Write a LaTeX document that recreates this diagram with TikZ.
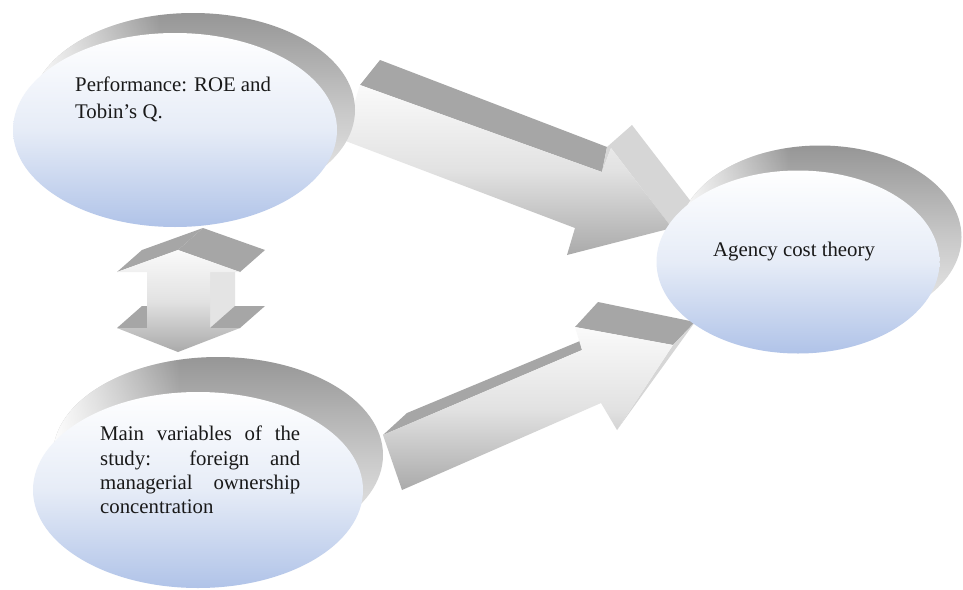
\documentclass[tikz,border=0pt]{standalone}
\usepackage{fontspec}
\setmainfont{Liberation Serif}
\usetikzlibrary{shapes.geometric,fadings}
\definecolor{facebot}{RGB}{176,195,232}
\definecolor{facemid}{RGB}{230,236,247}
\definecolor{bandtop}{RGB}{150,150,150}
\definecolor{bandmid}{RGB}{200,200,200}
\definecolor{bandbot}{RGB}{240,240,240}
\definecolor{arrowtop}{RGB}{250,250,250}
\definecolor{arrowmid}{RGB}{226,226,226}
\definecolor{arrowbot}{RGB}{170,170,170}
\definecolor{arrowdark}{RGB}{166,166,166}
\definecolor{arrowside}{RGB}{214,214,214}
\definecolor{shaftside}{RGB}{228,228,228}
\definecolor{txtcol}{RGB}{25,25,25}
\begin{document}
\begin{tikzpicture}[x=1pt,y=-1pt,
  facestyle/.style={ellipse, inner sep=0pt, draw=none, top color=white, bottom color=facebot, middle color=facemid},
  bandstyle/.style={ellipse, inner sep=0pt, draw=none, top color=bandtop, bottom color=bandbot, middle color=bandmid},
  frontface/.style={top color=arrowtop, bottom color=arrowbot, middle color=arrowmid},
  topface/.style={fill=arrowdark},
  sideface/.style={fill=arrowside},
  shaftface/.style={fill=shaftside},
  fadeleft/.style={fill=white, path fading=east},
  txt/.style={anchor=base west, inner sep=0pt, font=\fontsize{20.8}{25}\selectfont, text=txtcol}
]
\useasboundingbox (0,0) rectangle (963,589);
\fill[white] (0,0) rectangle (963,589);

% ---- arrow 1: Performance -> Agency
\fill[topface] (360,85) -- (602,172) -- (607,147) -- (380,60) -- cycle;
\fill[sideface] (602,172) -- (607,147) -- (632,125) -- (692,203) -- (672,228) -- (611,148) -- cycle;
\path[frontface] (343,140) -- (360,85) -- (602,172) -- (611,148) -- (672,228) -- (567,255) -- (575,228) -- cycle;

% ---- arrow 2: Main variables -> Agency
\fill[topface] (383,435) -- (582,350) -- (580,341) -- (407,413) -- cycle;
\fill[topface] (575,327) -- (673,345) -- (695,322) -- (598,302) -- cycle;
\fill[sideface] (673,345) -- (695,322) -- (617,430) -- cycle;
\path[frontface] (402,490) -- (383,435) -- (582,350) -- (575,327) -- (673,345) -- (617,430) -- (601,403) -- cycle;

% ---- double arrow between Performance and Main variables
\fill[shaftface] (210,272) -- (235,250) -- (235,306) -- (210,328) -- cycle;
\fill[topface] (117,272) -- (178,250) -- (203,228) -- (142,250) -- cycle;
\fill[topface] (178,250) -- (240,272) -- (265,250) -- (203,228) -- cycle;
\fill[topface] (210,328) -- (240,328) -- (265,306) -- (235,306) -- cycle;
\fill[topface] (117,328) -- (147,328) -- (172,306) -- (142,306) -- cycle;
\path[frontface] (178,250) -- (240,272) -- (210,272) -- (210,328) -- (240,328) -- (178,352) -- (117,328) -- (147,328) -- (147,272) -- (117,272) -- cycle;

% ---- ellipses (band behind, face in front)
\node[bandstyle, minimum width=324pt, minimum height=194pt] (perfband) at (193,110) {};
\begin{scope}
  \clip (193,110) ellipse [x radius=162, y radius=97];
  \fill[fadeleft] (25,0) rectangle (160,220);
\end{scope}
\node[facestyle, minimum width=324pt, minimum height=194pt] (perf) at (175,130) {};

\node[bandstyle, minimum width=283pt, minimum height=183pt] (agencyband) at (820,237) {};
\begin{scope}
  \clip (820,237) ellipse [x radius=141.5, y radius=91.5];
  \fill[fadeleft] (675,140) rectangle (790,340);
\end{scope}
\node[facestyle, minimum width=283pt, minimum height=183pt] (agency) at (798,262) {};

\node[bandstyle, minimum width=330pt, minimum height=196pt] (mainband) at (218,455) {};
\begin{scope}
  \clip (218,455) ellipse [x radius=165, y radius=98];
  \fill[fadeleft] (50,350) rectangle (180,560);
\end{scope}
\node[facestyle, minimum width=330pt, minimum height=196pt] (mainv) at (198,490) {};

% ---- texts
\node[txt] (p1) at (75,91) {Performance: ROE and};
\node[txt] (p2) at (75,118) {Tobin’s Q.};

\node[txt] (a1) at (713,256) {Agency cost theory};

\node[txt] (m1) at (100,440) {\makebox[200pt][s]{Main variables of the}};
\node[txt] (m2) at (100,465) {\makebox[200pt][s]{study: foreign and}};
\node[txt] (m3) at (100,489) {\makebox[200pt][s]{managerial ownership}};
\node[txt] (m4) at (100,513) {concentration};
\end{tikzpicture}
\end{document}
